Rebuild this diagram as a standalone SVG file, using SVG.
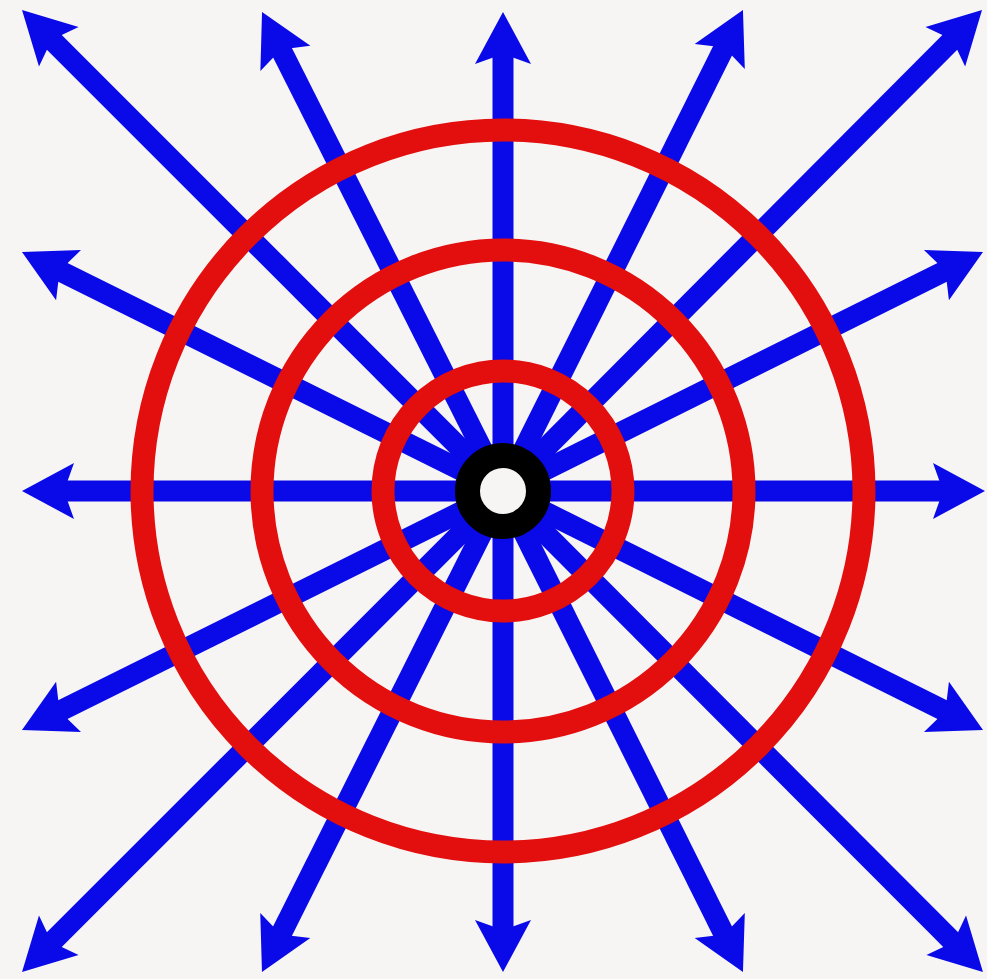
<svg xmlns="http://www.w3.org/2000/svg" width="987" height="979" viewBox="0 0 987 979">
  <style>
    .ray { stroke: #0a0ae8; stroke-width: 21; fill: none; stroke-linecap: butt; marker-end: url(#head); }
    .ring { stroke: #e30e0e; stroke-width: 23; fill: none; }
  </style>
  <defs>
    <marker id="head" markerUnits="userSpaceOnUse" viewBox="0 0 54 56" markerWidth="54" markerHeight="56" refX="12" refY="28" orient="auto" overflow="visible">
      <path d="M52,28 L0,0 L10,28 L0,56 Z" fill="#0a0ae8"/>
    </marker>
  </defs>
  <rect width="987" height="979" fill="#f6f5f3"/>
  <g id="connectors">
    <line class="ray" x1="503" y1="491" x2="50.3" y2="38.3"/>
    <line class="ray" x1="503" y1="491" x2="280" y2="47.7"/>
    <line class="ray" x1="503" y1="491" x2="503" y2="52"/>
    <line class="ray" x1="503" y1="491" x2="725.1" y2="45.8"/>
    <line class="ray" x1="503" y1="491" x2="953.8" y2="38.3"/>
    <line class="ray" x1="503" y1="491" x2="947.2" y2="269.8"/>
    <line class="ray" x1="503" y1="491" x2="945" y2="491"/>
    <line class="ray" x1="503" y1="491" x2="947.2" y2="712.2"/>
    <line class="ray" x1="503" y1="491" x2="954.7" y2="943.7"/>
    <line class="ray" x1="503" y1="491" x2="725.1" y2="936.2"/>
    <line class="ray" x1="503" y1="491" x2="503" y2="932"/>
    <line class="ray" x1="503" y1="491" x2="279.9" y2="936.2"/>
    <line class="ray" x1="503" y1="491" x2="50.3" y2="943.7"/>
    <line class="ray" x1="503" y1="491" x2="57.8" y2="712.2"/>
    <line class="ray" x1="503" y1="491" x2="62" y2="491"/>
    <line class="ray" x1="503" y1="491" x2="57.8" y2="269.8"/>
  </g>
  <g id="ring-outer"><circle class="ring" cx="503" cy="491" r="361"/></g>
  <g id="ring-middle"><circle class="ring" cx="503" cy="491" r="241"/></g>
  <g id="ring-inner"><circle class="ring" cx="503" cy="491" r="120"/></g>
  <g id="charge"><circle cx="503" cy="491" r="35.5" fill="#f6f5f3" stroke="#000" stroke-width="25"/></g>
</svg>
